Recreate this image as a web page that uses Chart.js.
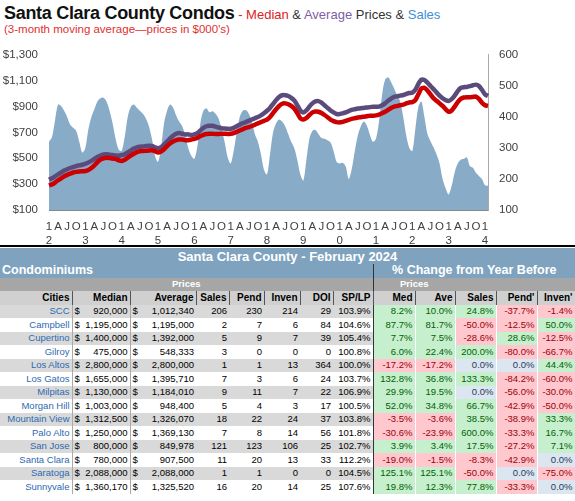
<!DOCTYPE html>
<html><head><meta charset="utf-8">
<script src="https://cdn.jsdelivr.net/npm/chart.js@4"></script>
<style>
body{margin:0;background:#fff;font-family:"Liberation Sans",Arial,sans-serif;width:575px;height:501px;overflow:hidden;position:relative}
#t1{position:absolute;left:4px;top:3px;white-space:nowrap}
#t1 b{font-size:18px;color:#111;letter-spacing:-0.3px}
#t1 span{font-size:13px}
#t2{position:absolute;left:4px;top:23px;font-size:11.5px;color:#e03030}
#cw{position:absolute;left:0;top:45px;width:540px;height:200px}
#rule{position:absolute;left:0;top:245px;width:575px;height:2px;background:#000}
table{position:absolute;left:0;top:248px;width:575px;border-collapse:collapse;table-layout:fixed;font-size:9.5px}
td{padding:0 2px;height:13px;line-height:12px;white-space:nowrap;overflow:hidden;text-align:right;box-sizing:border-box}
tr{height:13.5px}
.hd1{height:16px}
.hd1 td{background:#7fa3be;color:#fff;font-size:13px;font-weight:bold;height:16px;line-height:15px}
.hd2 td{background:#7fa3be;color:#fff;font-size:12.5px;font-weight:bold;line-height:13px}
.hd3 td{background:#a6a6a6;color:#fff;font-weight:bold;text-align:center}
.hd4 td{background:#d0d0d0;font-weight:bold;font-size:10px;border-right:1px solid #555}
.city{color:#2e6ab0}
.g{background:#c6efce;color:#006100}
.r{background:#ffc7ce;color:#9c0006}
.z{background:#dce6f1;color:#1f3a5a}
.pc{border-right:1px solid #fff}
</style></head><body>
<div id="t1"><b>Santa Clara County Condos</b><span> <span style="color:#d22">- Median</span> <span style="color:#333">&amp;</span> <span style="color:#7d5fa8">Average</span> <span style="color:#333">Prices &amp;</span> <span style="color:#3d8fd8">Sales</span></span></div>
<div id="t2">(3-month moving average—prices in $000's)</div>
<div id="cw"><canvas id="c"></canvas></div>
<div id="rule"></div>
<table id="tb"></table>
<script>
const startYear = 2012;
const salesData = [
320,335,390,440,435,420,400,375,365,355,320,285,
300,360,400,425,450,460,462,450,420,380,330,295,
290,335,400,432,440,430,420,410,395,370,330,275,
255,300,380,420,440,430,405,385,370,340,300,275,
265,305,380,420,428,415,418,410,395,360,320,270,
250,290,350,400,420,422,410,385,345,320,280,230,
215,280,350,380,392,385,370,345,320,300,262,215,
195,260,330,355,358,345,332,330,325,318,290,255,
250,252,240,200,232,290,340,370,385,372,342,320,
330,385,470,520,528,512,492,470,450,400,340,300,
290,362,432,450,400,345,322,302,280,250,200,170,
150,178,222,250,262,265,270,242,236,220,210,200,
180,178];
const averageData = [
334,345,360,375,390,405,415,425,432,440,445,450,
458,468,480,495,510,522,530,532,528,525,522,520,
525,530,545,560,575,585,590,592,595,598,595,585,
578,585,605,630,655,675,690,695,690,685,685,680,
685,695,715,735,748,752,752,745,738,733,730,728,
728,735,748,760,772,780,790,800,810,820,832,848,
868,890,920,950,975,988,988,982,968,948,912,870,
855,870,900,925,940,942,930,910,890,870,855,843,
842,848,855,865,875,880,885,888,890,893,896,898,
898,900,910,925,945,962,975,980,985,990,998,1005,
1008,1030,1075,1108,1105,1085,1060,1035,1010,985,965,950,
944,958,985,1020,1045,1050,1052,1058,1065,1070,1060,1030,
995,982];
const medianData = [
290,298,312,330,345,360,372,382,390,395,398,400,
402,410,425,445,470,490,500,505,502,498,495,485,
480,488,505,520,535,548,555,556,558,560,562,555,
545,552,570,595,615,630,640,645,645,640,640,645,
650,658,672,682,688,690,690,688,688,690,690,688,
690,695,705,715,725,735,742,750,760,770,780,790,
800,820,850,880,905,922,925,918,905,885,850,810,
800,812,835,855,862,860,850,835,818,800,788,780,
778,782,790,798,805,810,815,818,822,826,830,830,
832,838,848,860,875,890,900,905,910,915,925,932,
935,950,995,1040,1045,1025,995,965,945,925,905,880,
860,870,900,935,960,970,972,972,975,978,960,930,
910,905];
const monthLetters = ["1","","","A","","","J","","","O","",""];
const labels = salesData.map((v,i)=>i);

const cities = ["SCC","Campbell","Cupertino","Gilroy","Los Altos","Los Gatos","Milpitas","Morgan Hill","Mountain View","Palo Alto","San Jose","Santa Clara","Saratoga","Sunnyvale"];
const medians = ["920,000","1,195,000","1,400,000","475,000","2,800,000","1,655,000","1,130,000","1,003,000","1,312,500","1,250,000","800,000","780,000","2,088,000","1,360,170"];
const averages = ["1,012,340","1,195,000","1,392,000","548,333","2,800,000","1,395,710","1,184,010","948,400","1,326,070","1,369,130","849,978","907,500","2,088,000","1,325,520"];
const sales = [206,2,5,3,1,7,9,5,18,7,121,11,1,16];
const pend = [230,7,9,0,1,3,11,4,22,8,123,20,1,20];
const inven = [214,6,7,0,13,6,7,3,24,14,106,13,0,14];
const doi = [29,84,39,0,364,24,22,17,37,56,25,33,0,25];
const splp = ["103.9%","104.6%","105.4%","100.8%","100.0%","103.7%","106.9%","100.5%","103.8%","101.8%","102.7%","112.2%","104.5%","107.6%"];
const chMed = [8.2,87.7,7.7,6.0,-17.2,132.8,29.9,52.0,-3.5,-30.6,3.9,-19.0,125.1,19.8];
const chAve = [10.0,81.7,7.5,22.4,-17.2,36.8,19.5,34.8,-3.6,-23.9,3.4,-1.5,125.1,12.3];
const chSales = [24.8,-50.0,-28.6,200.0,0.0,133.3,0.0,66.7,38.5,600.0,17.5,-8.3,-50.0,77.8];
const chPend = [-37.7,-12.5,28.6,-80.0,0.0,-84.2,-56.0,-42.9,-38.9,-33.3,-27.2,-42.9,0.0,-33.3];
const chInven = [-1.4,50.0,-12.5,-66.7,44.4,-60.0,-30.0,-50.0,33.3,16.7,7.1,0.0,-75.0,0.0];

Chart.defaults.font.family = '"Liberation Sans", Arial, sans-serif';
new Chart(document.getElementById('c'), {
  data: {
    labels: labels,
    datasets: [
      {type:'line', data: averageData, yAxisID:'y', borderColor:'#5b4b7c', borderWidth:4.5, pointRadius:0, tension:0.2, order:1},
      {type:'line', data: medianData, yAxisID:'y', borderColor:'#cc0000', borderWidth:4.5, pointRadius:0, tension:0.2, order:0},
      {type:'line', data: salesData, yAxisID:'y1', borderWidth:0, backgroundColor:'#88abc8', fill:'origin', pointRadius:0, tension:0.3, order:5}
    ]
  },
  options: {
    responsive:true, maintainAspectRatio:false, animation:false,
    layout:{padding:{top:8,left:0,right:0}},
    plugins:{legend:{display:false}, tooltip:{enabled:false}},
    scales:{
      x:{offset:false, grid:{display:false}, border:{color:'#888'},
         afterFit:(s)=>{s.height=35;},
         ticks:{autoSkip:false, maxRotation:0, padding:2, color:'#404040', font:{size:11.5},
           callback:(v,i)=>{const m=i%12; const l=monthLetters[m]; if(!l) return null; return m===0?["1",String((startYear+Math.floor(i/12))%10)]:[l,""];}}},
      y:{position:'left', min:100, max:1300, grid:{display:false}, border:{display:false},
         afterFit:(s)=>{s.width=49;},
         ticks:{stepSize:200, color:'#404040', font:{size:11.5}, callback:v=>'$'+v.toLocaleString('en-US')}},
      y1:{position:'right', min:100, max:600, grid:{display:false}, border:{color:'#aaa'},
         afterFit:(s)=>{s.width=52;},
         ticks:{stepSize:100, color:'#404040', font:{size:11.5}}}
    }
  }
});

const cw=[72,58,66,33,35,36,33,40,42,40,41,41,38];
let h='<colgroup>'+cw.map(w=>'<col style="width:'+w+'px">').join('')+'</colgroup>';
h+='<tr class="hd1"><td colspan="13" style="text-align:center">Santa Clara County  - February 2024</td></tr>';
h+='<tr class="hd2"><td colspan="8" style="text-align:left;border-right:1px solid #333">Condominiums</td><td colspan="5" style="text-align:center">% Change from Year Before</td></tr>';
h+='<tr class="hd3"><td colspan="8" style="border-right:1px solid #333">Prices</td><td colspan="2">Prices</td><td colspan="3"></td></tr>';
h+='<tr class="hd4"><td>Cities</td><td>Median</td><td>Average</td><td>Sales</td><td>Pend</td><td>Inven</td><td>DOI</td><td>SP/LP</td><td>Med</td><td>Ave</td><td>Sales</td><td>Pend\'</td><td>Inven\'</td></tr>';
const pcell=v=>{const c=v>0?'g':(v<0?'r':'z');return '<td class="pc '+c+'">'+v.toFixed(1)+'%</td>';};
cities.forEach((c,i)=>{
  const bg=i%2===0?'#d9d9d9':'#ffffff';
  h+='<tr style="background:'+bg+'"><td class="city" style="border-right:1px solid #aaa">'+c+'</td>'+
  '<td style="border-right:1px solid #aaa"><span style="float:left">$</span>'+medians[i]+'</td>'+
  '<td><span style="float:left">$</span>'+averages[i]+'</td>'+
  '<td>'+sales[i]+'</td><td>'+pend[i]+'</td><td>'+inven[i]+'</td><td>'+doi[i]+'</td><td style="border-right:1px solid #333">'+splp[i]+'</td>'+
  pcell(chMed[i])+pcell(chAve[i])+pcell(chSales[i])+pcell(chPend[i])+pcell(chInven[i])+'</tr>';
});
document.getElementById('tb').innerHTML=h;
</script>
</body></html>
